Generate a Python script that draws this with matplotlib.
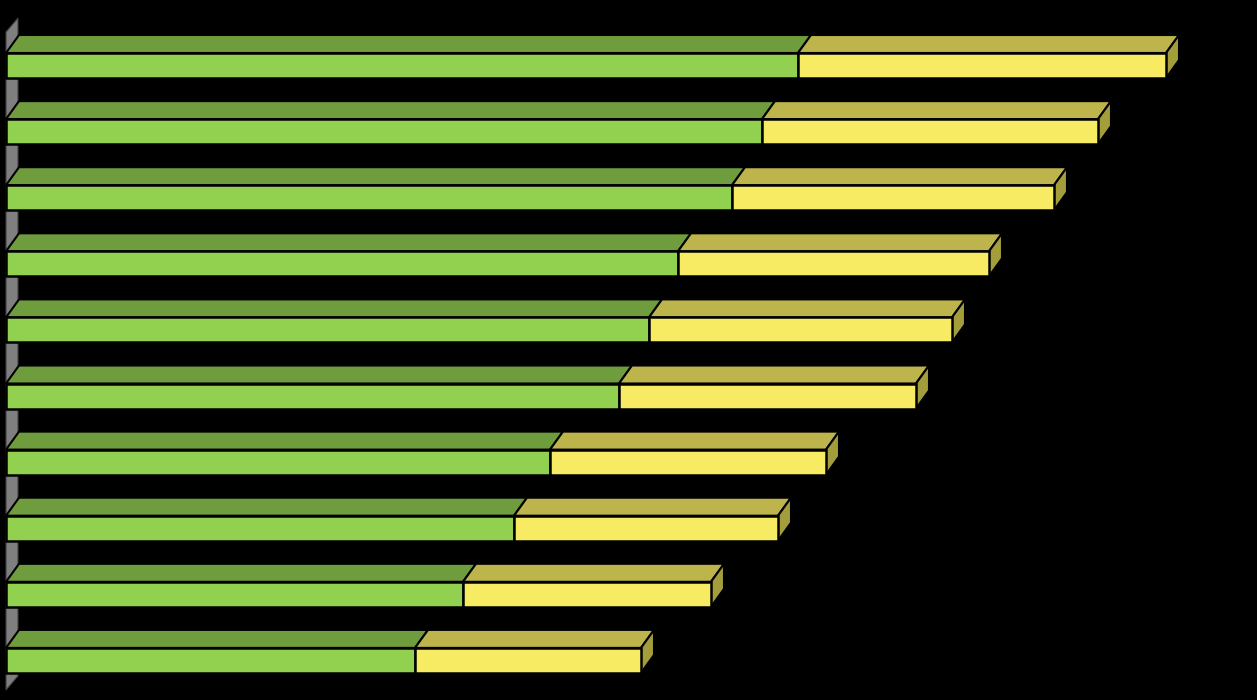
import matplotlib
matplotlib.use("Agg")
import matplotlib.pyplot as plt
from matplotlib.patches import Polygon

categories = ["Item 1", "Item 2", "Item 3", "Item 4", "Item 5",
              "Item 6", "Item 7", "Item 8", "Item 9", "Item 10"]
series_a = [79.2, 75.6, 72.6, 67.2, 64.3, 61.3, 54.4, 50.8, 45.7, 40.9]
series_b = [36.8, 33.6, 32.2, 31.1, 30.3, 29.7, 27.6, 26.4, 24.8, 22.6]

front_colors = ["#92D050", "#F7EB63"]
top_colors = ["#6F9C3D", "#BDB44B"]
side_colors = ["#5E8434", "#A39D3C"]
wall_color = "#7F7F7F"

W, H = 1257, 700
fig = plt.figure(figsize=(W / 100, H / 100), dpi=100, facecolor="black")
ax = fig.add_axes([0, 0, 1, 1])
ax.set_facecolor("black")

px_per_unit_x = 10.0
x0_px = 6.0
ax.set_xlim(-x0_px / px_per_unit_x, (W - x0_px) / px_per_unit_x)
y0_px, step_px = 65.5, 66.1
ax.set_ylim((H - y0_px) / step_px, -y0_px / step_px)
for s in ax.spines.values():
    s.set_visible(False)
ax.set_xticks([])
ax.set_yticks([])

bar_h = 25.0 / step_px
dx = 13.0 / px_per_unit_x
dy = -18.0 / step_px

# back side wall
wdx = 12.0 / px_per_unit_x
wdy = -14.0 / step_px
wall_top = (32 - y0_px) / step_px
wall_bot = (690 - y0_px) / step_px
ax.add_patch(Polygon([(0, wall_top), (wdx, wall_top + wdy), (wdx, wall_bot + wdy), (0, wall_bot)],
                     closed=True, facecolor=wall_color, edgecolor="#404040", lw=0.8, zorder=1))

ypos = list(range(len(categories)))
lefts = [0.0] * len(categories)
for k, vals in enumerate([series_a, series_b]):
    ax.barh(ypos, vals, left=lefts, height=bar_h, color=front_colors[k],
            edgecolor="black", linewidth=1.8, zorder=3)
    for i, v in enumerate(vals):
        x1 = lefts[i]
        x2 = lefts[i] + v
        yt = i - bar_h / 2
        ax.add_patch(Polygon([(x1, yt), (x2, yt), (x2 + dx, yt + dy), (x1 + dx, yt + dy)],
                             closed=True, facecolor=top_colors[k], edgecolor="black",
                             lw=1.5, zorder=2))
        if k == 1:
            yb = i + bar_h / 2
            ax.add_patch(Polygon([(x2, yt), (x2 + dx, yt + dy), (x2 + dx, yb + dy), (x2, yb)],
                                 closed=True, facecolor=side_colors[k], edgecolor="black",
                                 lw=1.5, zorder=2))
    lefts = [l + v for l, v in zip(lefts, vals)]

fig.savefig("out.png", dpi=100, facecolor="black")
